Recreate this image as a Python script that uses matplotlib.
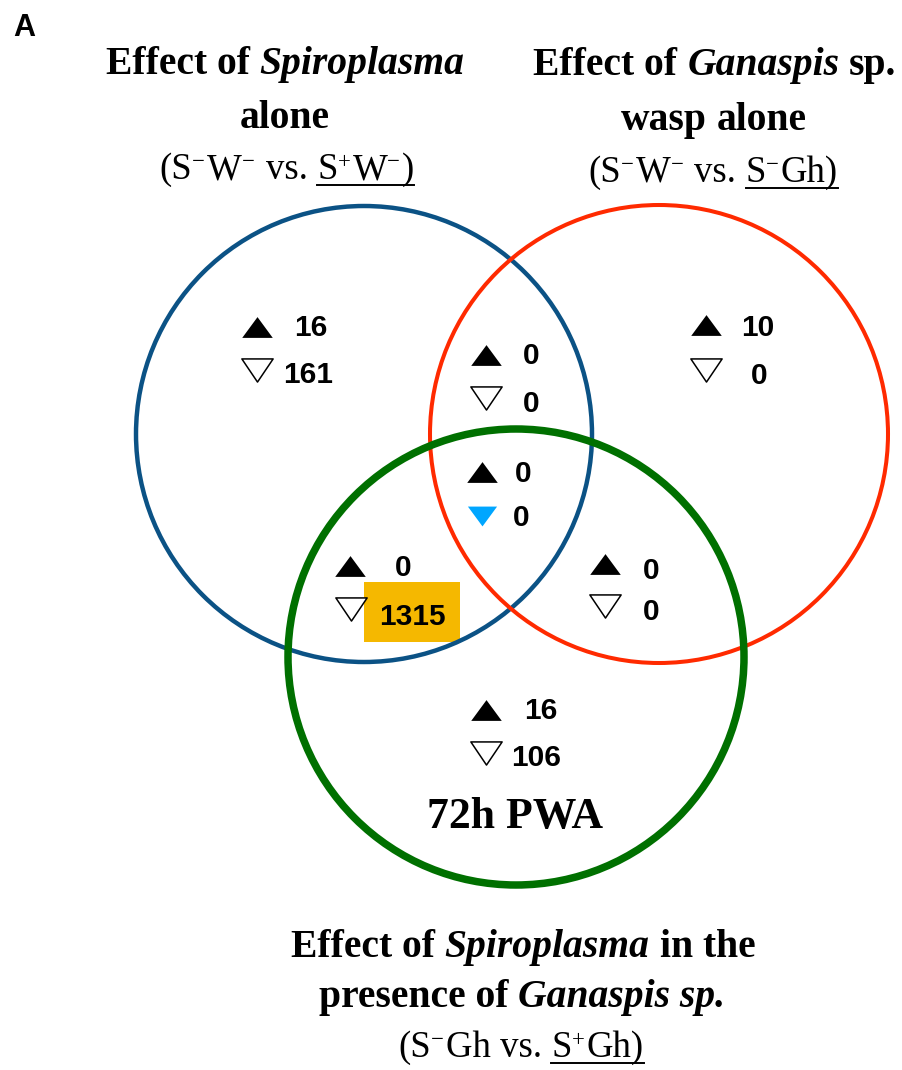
import matplotlib
matplotlib.use("Agg")
import matplotlib.pyplot as plt
from matplotlib.patches import Circle, Rectangle
from matplotlib.path import Path

# region counts of differentially expressed genes (up / down)
regions = ["S only", "S & W", "W only", "all", "S & G", "W & G", "G only"]
up_counts = [16, 0, 10, 0, 0, 0, 16]
down_counts = [161, 0, 0, 0, 1315, 0, 106]

# where each region's labels sit (pixel coords, y down)
up_marks = [(257, 327), (486, 355), (706, 325), (482, 472), (350, 566), (605, 564), (486, 710)]
up_text = [(311, 325), (531, 353), (758, 325), (523, 471), (403, 565), (651, 568), (541, 708)]
down_marks = [(257, 370), (486, 398), (706, 370), (482, 516), (351, 609), (605, 606), (486, 753)]
down_text = [(308, 372), (531, 401), (759, 373), (521, 515), (412, 614), (651, 609), (536, 755)]

SERIF = "Liberation Serif"
SANS = "Liberation Sans"

fig = plt.figure(figsize=(9.02, 10.70), dpi=100)
ax = fig.add_axes([0, 0, 1, 1])
ax.set_xlim(0, 902)
ax.set_ylim(1070, 0)
ax.axis("off")

# the three sets
ax.add_patch(Circle((364, 434), 228, fill=False, ec="#0b5285", lw=3.2, zorder=2))
ax.add_patch(Circle((659, 434), 229, fill=False, ec="#ff2a00", lw=2.9, zorder=3))
ax.add_patch(Circle((516, 657), 228, fill=False, ec="#007000", lw=5.4, zorder=4))

# highlight box behind 1315
ax.add_patch(Rectangle((364, 582), 96, 60, fc="#f5b800", ec="none", zorder=1))

tri_up = Path([(-1, -0.68), (1, -0.68), (0, 0.68), (-1, -0.68)], closed=True)
tri_dn = Path([(-1, 0.68), (1, 0.68), (0, -0.68), (-1, 0.68)], closed=True)
tri_dn_open = Path([(-1, 0.74), (1, 0.74), (0, -0.74), (-1, 0.74)], closed=True)

num_size = 21.5
num_px = num_size * 100 / 72
for i, name in enumerate(regions):
    ax.plot(*up_marks[i], marker=tri_up, ms=22, color="black", mew=0, ls="none", zorder=5)
    if name == "all":
        ax.plot(*down_marks[i], marker=tri_dn, ms=21, color="#00a6ff", mew=0, ls="none", zorder=5)
    else:
        ax.plot(*down_marks[i], marker=tri_dn_open, ms=22.5, mfc="white", mec="black", mew=1.1,
                ls="none", zorder=5)
    ax.text(up_text[i][0], up_text[i][1] + 0.358 * num_px, str(up_counts[i]), family=SANS,
            weight="bold", fontsize=num_size, ha="center", va="baseline", zorder=6)
    ax.text(down_text[i][0], down_text[i][1] + 0.358 * num_px, str(down_counts[i]), family=SANS,
            weight="bold", fontsize=num_size, ha="center", va="baseline", zorder=6)

STYLE = {
    "b": dict(weight="bold", style="normal", scale=1.0, rise=0.0),
    "bi": dict(weight="bold", style="italic", scale=1.0, rise=0.0),
    "r": dict(weight="normal", style="normal", scale=1.0, rise=0.0),
    "s": dict(weight="normal", style="normal", scale=0.62, rise=0.30),
}


def rich(xc, y, pieces, size):
    """Draw one centred line made of mixed-style pieces; '_u' marks underlined pieces."""
    px = size * 100 / 72
    r = fig.canvas.get_renderer()
    arts = []
    for s, kind in pieces:
        if s == " ":
            arts.append((None, 0.25 * px, False))
            continue
        under = kind.endswith("_u")
        st = STYLE[kind.replace("_u", "")]
        t = ax.text(0, y - st["rise"] * px, s, family=SERIF, weight=st["weight"],
                    style=st["style"], fontsize=size * st["scale"], ha="left", va="baseline",
                    zorder=6)
        w = t.get_window_extent(r).width
        if st["scale"] < 1:
            w += 2
        arts.append((t, w, under))
    total = sum(a[1] for a in arts)
    x = xc - total / 2
    u0, u1 = None, None
    for t, w, under in arts:
        if t is not None:
            t.set_x(x)
        if under:
            u0 = x if u0 is None else u0
            u1 = x + w
        x += w
    if u0 is not None:
        ax.plot([u0, u1], [y + 6, y + 6], color="black", lw=1.4, zorder=6)


big = 28.5
sub = 26.5
rich(285, 74, [("Effect of", "b"), (" ", ""), ("Spiroplasma", "bi")], big)
rich(285, 128, [("alone", "b")], big)
rich(287, 179, [("(S", "r"), ("−", "s"), ("W", "r"), ("−", "s"), (" ", ""), ("vs.", "r"),
                (" ", ""), ("S", "r_u"), ("+", "s_u"), ("W", "r_u"), ("−", "s_u"), (")", "r_u")], sub)

rich(715, 75, [("Effect of", "b"), (" ", ""), ("Ganaspis", "bi"), (" ", ""), ("sp.", "b")], big)
rich(714, 130, [("wasp", "b"), (" ", ""), ("alone", "b")], big)
rich(713, 182, [("(S", "r"), ("−", "s"), ("W", "r"), ("−", "s"), (" ", ""), ("vs.", "r"),
                (" ", ""), ("S", "r_u"), ("−", "s_u"), ("Gh)", "r_u")], sub)

rich(523, 957, [("Effect of", "b"), (" ", ""), ("Spiroplasma", "bi"), (" ", ""), ("in the", "b")], big)
rich(522, 1007, [("presence of", "b"), (" ", ""), ("Ganaspis sp.", "bi")], big)
rich(521, 1057, [("(S", "r"), ("−", "s"), ("Gh vs.", "r"), (" ", ""),
                 ("S", "r_u"), ("+", "s_u"), ("Gh)", "r_u")], sub)

ax.text(515, 828, "72h PWA", family=SERIF, weight="bold", fontsize=31.5, ha="center",
        va="baseline", zorder=6)
ax.text(13, 36, "A", family=SANS, weight="bold", fontsize=22, ha="left", va="baseline")

fig.savefig("out.png", dpi=100)
